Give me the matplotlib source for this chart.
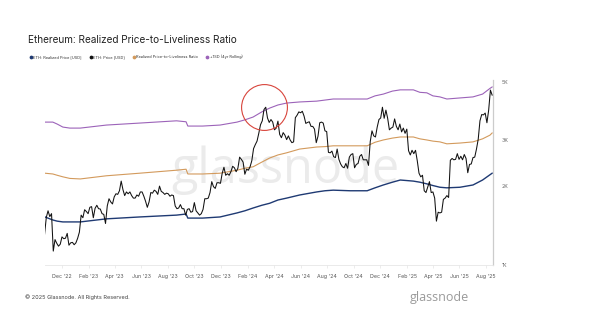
import matplotlib
matplotlib.use('Agg')
import matplotlib.pyplot as plt
import matplotlib.dates as mdates
from matplotlib.lines import Line2D
from matplotlib.ticker import NullLocator
import numpy as np
import pandas as pd

plt.rcParams['font.family'] = ['Inter', 'DejaVu Sans']

# ---- data ----
price_start = '2022-10-22'   # ETH price sampled every 4 days
eth_price = [
    1310, 1520, 1610,
    1530, 1570, 1130, 1250, 1210, 1180, 1200,
    1280, 1260, 1265, 1320, 1190, 1215, 1220, 1195,
    1215, 1265, 1335, 1550, 1515, 1625, 1600, 1570,
    1660, 1670, 1515, 1645, 1690, 1640, 1635,
    1570, 1560, 1440, 1680, 1790, 1740, 1710, 1820,
    1870, 1860, 1920, 2090, 1940, 1840, 1900,
    1870, 1900, 1840, 1800, 1800, 1850, 1830, 1900,
    1900, 1830, 1750, 1660, 1740, 1890, 1880,
    1930, 1910, 1860, 2000, 1910, 1890, 1860, 1880,
    1870, 1830, 1850, 1840, 1680, 1640, 1650, 1700,
    1640, 1640, 1550, 1630, 1640, 1590, 1600,
    1730, 1610, 1580, 1550, 1570, 1630, 1790, 1790,
    1800, 1890, 2080, 1990, 1960, 2060, 2060, 2050,
    2240, 2360, 2200, 2230, 2200, 2270, 2380,
    2350, 2270, 2340, 2580, 2530, 2470, 2220, 2320,
    2300, 2370, 2500, 2780, 2880, 2970, 3180,
    3430, 3550, 3920, 4000, 3640, 3500, 3590, 3510,
    3280, 3330, 3540, 3150, 3060, 3200, 3130, 3010,
    3110, 3000, 2930, 2950, 3650, 3730, 3840,
    3810, 3860, 3700, 3470, 3500, 3520, 3380, 3380,
    3300, 2930, 3100, 3490, 3510, 3480, 3250, 3230,
    2690, 2680, 2720, 2590, 2570, 2770, 2530,
    2430, 2370, 2350, 2440, 2340, 2580, 2640, 2660,
    2350, 2420, 2440, 2600, 2640, 2520, 2520, 2520,
    2400, 2960, 3250, 3110, 3080, 3360, 3590,
    3640, 4000, 3630, 3900, 3630, 3280, 3330, 3360,
    3610, 3380, 3280, 3450, 3220, 3330, 3180, 3300,
    2730, 2630, 2740, 2660, 2740, 2500, 2240,
    2170, 2200, 1920, 1890, 1980, 2080, 1890,
    1900, 1800, 1470, 1590, 1580, 1590, 1780, 1800,
    1840, 1810, 2510, 2550, 2520, 2530, 2660, 2530,
    2600, 2520, 2640, 2550, 2250, 2420, 2430,
    2570, 2580, 2770, 3020, 3550, 3750, 3740, 3800,
    3490, 3900, 4650, 4450,
]

band_dates = [
    '2022-10-23', '2022-11-10', '2022-11-20', '2022-12-03', '2022-12-19',
    '2023-01-12', '2023-03-13', '2023-05-28', '2023-08-21', '2023-09-12',
    '2023-09-16', '2023-10-20', '2023-11-29', '2024-01-07', '2024-01-25',
    '2024-02-13', '2024-03-04', '2024-03-22', '2024-04-10', '2024-04-30',
    '2024-05-30', '2024-07-08', '2024-07-27', '2024-08-15', '2024-09-23',
    '2024-11-01', '2024-11-19', '2024-12-08', '2024-12-29', '2025-01-16',
    '2025-02-15', '2025-03-02', '2025-03-18', '2025-04-01', '2025-04-17',
    '2025-05-03', '2025-06-02', '2025-07-02', '2025-07-24', '2025-08-10',
    '2025-08-15',
]
realized_price = [
    1525, 1485, 1470, 1460, 1460, 1460, 1500, 1525, 1550, 1565,
    1510, 1510, 1525, 1580, 1610, 1650, 1690, 1720, 1770, 1800,
    1850, 1900, 1920, 1930, 1920, 1920, 1970, 2020, 2070, 2110,
    2090, 2070, 2040, 2010, 1980, 1970, 1980, 2020, 2110, 2210,
    2240,
]
liveliness_ratio = [
    2240, 2225, 2200, 2170, 2140, 2130, 2190, 2240, 2300, 2320,
    2225, 2225, 2240, 2300, 2340, 2370, 2470, 2560, 2630, 2680,
    2770, 2820, 2830, 2850, 2850, 2850, 2940, 3000, 3050, 3080,
    3080, 3030, 3000, 2970, 2950, 2900, 2920, 2950, 3030, 3130,
    3190,
]
plus_1sd = [
    3510, 3510, 3450, 3360, 3330, 3330, 3420, 3480, 3550, 3520,
    3390, 3390, 3420, 3510, 3580, 3670, 3840, 3970, 4080, 4150,
    4190, 4220, 4260, 4300, 4300, 4300, 4420, 4490, 4610, 4660,
    4660, 4560, 4540, 4420, 4380, 4300, 4340, 4380, 4490, 4720,
    4780,
]

series_labels = ['ETH: Realized Price [USD]', 'ETH: Price [USD]',
                 'Realized Price-to-Liveliness Ratio', '+1SD (4yr Rolling)']
series_colors = ['#1f3a73', '#111111', '#d39a5c', '#9c63b9']

y_ticks = [1000, 2000, 3000, 5000]
y_tick_labels = ['1K', '2K', '3K', '5K']

price_dates = pd.date_range(price_start, periods=len(eth_price), freq='4D')
band_dates = pd.to_datetime(band_dates)

# ---- figure ----
fig = plt.figure(figsize=(6, 3.23), dpi=100)
fig.patch.set_facecolor('white')
ax = fig.add_axes([0.075, 0.1796, 0.7467, 0.574])

# watermark
ax.text(0.536, 0.442, 'glassnode', transform=ax.transAxes, ha='center', va='baseline',
        fontsize=35, color='#ebebeb', family='Open Sans', zorder=0)

ax.plot(band_dates, plus_1sd, color=series_colors[3], lw=0.8, zorder=2)
ax.plot(band_dates, liveliness_ratio, color=series_colors[2], lw=0.8, zorder=2)
ax.plot(band_dates, realized_price, color=series_colors[0], lw=1.0, zorder=2)
ax.plot(price_dates, eth_price, color=series_colors[1], lw=0.75, zorder=3)

# red circle around the March 2024 top
peak = int(np.argmax(eth_price[:160]))
ax.plot(price_dates[peak] - pd.Timedelta(days=4), eth_price[peak], marker='o', markersize=33,
        markerfacecolor='none', markeredgecolor='#d8453c', markeredgewidth=0.8, zorder=4)

ax.set_yscale('log')
ax.set_ylim(1000, 5100)
ax.yaxis.set_minor_locator(NullLocator())
ax.yaxis.tick_right()
ax.set_yticks(y_ticks)
ax.set_yticklabels(y_tick_labels)
ax.set_xlim(pd.Timestamp('2022-10-23'), pd.Timestamp('2025-08-17'))
ax.xaxis.set_major_locator(mdates.MonthLocator(bymonth=[2, 4, 6, 8, 10, 12]))
ax.xaxis.set_major_formatter(mdates.DateFormatter("%b '%y"))

ax.tick_params(axis='y', length=0, pad=6, labelsize=3.8, labelcolor='#666666')
ax.tick_params(axis='x', length=2, width=0.5, color='#e4e4e4', pad=4.5,
               labelsize=3.8, labelcolor='#555555')
for side in ['top', 'left']:
    ax.spines[side].set_visible(False)
ax.spines['bottom'].set_color('#e6e6e6')
ax.spines['bottom'].set_linewidth(0.6)
ax.spines['right'].set_color('#cccccc')
ax.spines['right'].set_linewidth(0.9)

# title, legend, footer
fig.text(28 / 600, 1 - 40 / 323, 'Ethereum: Realized Price-to-Liveliness Ratio',
         fontsize=7.2, color='#222222', va='center')
handles = [Line2D([], [], marker='o', linestyle='none', markersize=1.7, color=c)
           for c in series_colors]
fig.legend(handles, series_labels, loc='center left', bbox_to_anchor=(0.046, 1 - 57 / 323),
           ncol=4, fontsize=2.85, frameon=False, handlelength=0.6, handletextpad=0.3,
           columnspacing=2.0, borderpad=0, labelcolor='#333333')

fig.text(25 / 600, 1 - 297 / 323, '\u00a9 2025 Glassnode. All Rights Reserved.',
         fontsize=4.0, color='#444444', va='center')
fig.text(410 / 600, 1 - 297 / 323, 'glassnode', fontsize=9, color='#9a9a9a',
         va='center', family='Open Sans')

fig.savefig('out.png', dpi=100, facecolor='white')
